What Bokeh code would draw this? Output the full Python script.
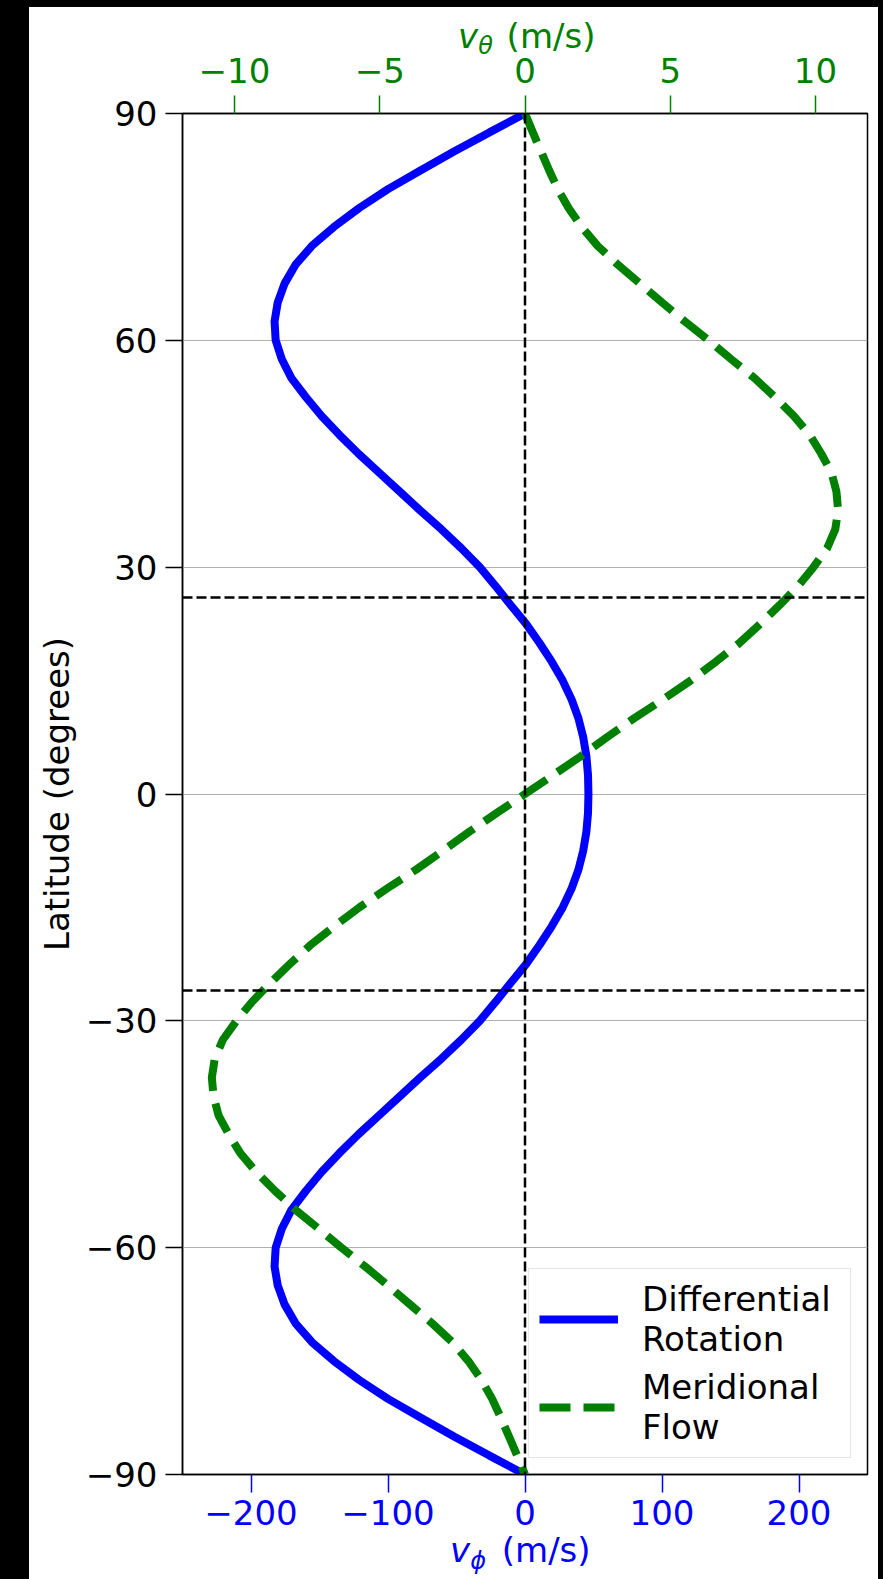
from bokeh.plotting import figure
from bokeh.models import Range1d, LinearAxis, FixedTicker, Span, Spacer, Div
from bokeh.layouts import row, column
from bokeh.embed import file_html
from bokeh.resources import INLINE

# ---- data ----
lat_rot = [90, 87.5, 85, 82.5, 80, 77.5, 75, 72.5, 70, 67.5, 65, 62.5, 60, 57.5, 55, 52.5, 50, 47.5, 45, 42.5,
           40, 37.5, 35, 32.5, 30, 27.5, 25, 22.5, 20, 17.5, 15, 12.5, 10, 7.5, 5, 2.5, 0,
           -2.5, -5, -7.5, -10, -12.5, -15, -17.5, -20, -22.5, -25, -27.5, -30, -32.5, -35, -37.5, -40,
           -42.5, -45, -47.5, -50, -52.5, -55, -57.5, -60, -62.5, -65, -67.5, -70, -72.5, -75, -77.5, -80,
           -82.5, -85, -87.5, -90]
v_phi = [0, -26, -51.5, -76, -100, -121, -139.5, -155.5, -167.5, -175.5, -180.5, -182.8, -182, -177.5, -170.5, -160,
         -148.5, -135.5, -121.5, -106.5, -91.5, -76.5, -61, -46.5, -33, -21.5, -10.5, 0.8, 10.5, 19.5, 27.5, 34, 39,
         42.5, 44.8, 46, 46.3,
         46, 44.8, 42.5, 39, 34, 27.5, 19.5, 10.5, 0.8, -10.5, -21.5, -33, -46.5, -61, -76.5, -91.5,
         -106.5, -121.5, -135.5, -148.5, -160, -170.5, -177.5, -182, -182.8, -180.5, -175.5, -167.5, -155.5, -139.5,
         -121, -100, -76, -51.5, -26, 0]

lat_mer = [90, 87.5, 85, 82.5, 80, 77.5, 75, 72.5, 70, 67.5, 65, 62.5, 60, 57.5, 55, 52.5, 50, 47.5, 45, 42.5,
           40, 37.5, 35, 32.5, 30, 27.5, 25, 22.5, 20, 17.5, 15, 12.5, 10, 7.5, 5, 2.5, 0,
           -2.5, -5, -7.5, -10, -12.5, -15, -17.5, -20, -22.5, -25, -27.5, -30, -32.5, -35, -37.5, -40,
           -42.5, -45, -47.5, -50, -52.5, -55, -57.5, -60, -62.5, -65, -67.5, -70, -72.5, -75, -77.5, -80,
           -82.5, -85, -87.5, -90]
v_theta = [0, 0.27, 0.55, 0.83, 1.13, 1.5, 1.95, 2.5, 3.2, 3.96, 4.72, 5.5, 6.32, 7.1, 7.9, 8.6, 9.25, 9.8, 10.2, 10.55,
           10.72, 10.78, 10.68, 10.4, 9.93, 9.4, 8.77, 8.1, 7.39, 6.57, 5.7, 4.75, 3.75, 2.82, 1.92, 0.97, 0,
           -0.97, -1.92, -2.82, -3.75, -4.75, -5.7, -6.57, -7.39, -8.1, -8.77, -9.4, -9.93, -10.4, -10.68, -10.78, -10.72,
           -10.55, -10.2, -9.8, -9.25, -8.6, -7.9, -7.1, -6.32, -5.5, -4.72, -3.96, -3.2, -2.5, -1.95, -1.5, -1.13,
           -0.83, -0.55, -0.27, 0]

boundary_lats = [26, -26]
lat_ticks = [-90, -60, -30, 0, 30, 60, 90]
phi_ticks = [-200, -100, 0, 100, 200]
theta_ticks = [-10, -5, 0, 5, 10]

BLUE = "#0000ff"
GREEN = "#008000"
FONT = "DejaVu Sans"
FS = "34px"


def minus(v):
    return ("\u2212" + str(abs(v))) if v < 0 else str(v)


p = figure(width=849, height=1503,
           x_range=Range1d(-250, 250), y_range=Range1d(-90, 90),
           output_backend="svg", toolbar_location=None,
           min_border_left=153, min_border_right=11, min_border_top=76, min_border_bottom=66,
           background_fill_color="white", border_fill_color="white", border_fill_alpha=0,
           margin=0)
p.extra_x_ranges = {"theta": Range1d(-11.79, 11.79)}

p.outline_line_color = "black"
p.outline_line_width = 1.5
p.xgrid.visible = False
p.ygrid.grid_line_color = "#b0b0b0"
p.ygrid.grid_line_width = 1.2

# left axis
ya = p.yaxis[0]
ya.ticker = FixedTicker(ticks=lat_ticks)
ya.major_label_overrides = {t: minus(t) for t in lat_ticks}
ya.axis_label = "Latitude (degrees)"
ya.axis_label_text_font = FONT
ya.axis_label_text_font_size = FS
ya.axis_label_text_font_style = "normal"
ya.axis_label_text_color = "black"
ya.axis_label_standoff = 6
ya.major_label_text_color = "black"

# bottom axis
xa = p.xaxis[0]
xa.ticker = FixedTicker(ticks=phi_ticks)
xa.major_label_overrides = {t: minus(t) for t in phi_ticks}
xa.major_label_text_color = BLUE
xa.major_tick_line_color = BLUE

# top axis
ta = LinearAxis(x_range_name="theta", ticker=FixedTicker(ticks=theta_ticks))
ta.major_label_overrides = {t: minus(t) for t in theta_ticks}
ta.major_label_text_color = GREEN
ta.major_tick_line_color = GREEN
p.add_layout(ta, "above")

for ax in (ya, xa, ta):
    ax.major_label_text_font = FONT
    ax.major_label_text_font_size = FS
    ax.major_tick_out = 18
    ax.major_tick_in = 0
    ax.major_tick_line_width = 1.5
    ax.minor_tick_line_color = None
    ax.axis_line_color = "black"
    ax.axis_line_width = 1.5
ya.major_tick_out = 17
ya.major_label_standoff = 8
xa.major_label_standoff = 7
ta.major_label_standoff = 13

# curves
p.line(v_phi, lat_rot, line_color=BLUE, line_width=8, legend_label="Differential\nRotation")
p.line(v_theta, lat_mer, x_range_name="theta", line_color=GREEN, line_width=8,
       line_dash="31 13", legend_label="Meridional\nFlow")

# reference dashed lines
p.add_layout(Span(location=0, dimension="height", line_color="black", line_width=2.5, line_dash="10 4"))
for b in boundary_lats:
    p.add_layout(Span(location=b, dimension="width", line_color="black", line_width=2.5, line_dash="10 4"))

lg = p.legend[0]
lg.location = "bottom_right"
lg.margin = 16
lg.padding = 10
lg.spacing = 8
lg.glyph_width = 79
lg.label_standoff = 24
lg.label_width = 198
lg.label_text_font = FONT
lg.label_text_font_size = FS
lg.label_text_color = "black"
lg.label_text_line_height = 1.2
lg.border_line_color = "#cccccc"
lg.border_line_width = 1.5
lg.background_fill_alpha = 0.8


def axis_title(sub, color, pad_left, pad_top, line_h, sub_drop, gap):
    return (
        f'<div style="font-family:\'DejaVu Sans\'; font-size:34px; line-height:{line_h}px; '
        f'padding-top:{pad_top}px; padding-left:{pad_left}px; white-space:nowrap; color:{color};">'
        f'<span style="font-style:italic">v</span>'
        f'<span style="font-size:24px; font-style:italic; position:relative; top:{sub_drop}px">{sub}</span>'
        f'<span style="margin-left:{gap}px"> (m/s)</span></div>'
    )


top_title = Div(text=axis_title("\u03b8", GREEN, 429, 12, 34, 6, 3), width=849, height=30, margin=0)
bottom_title = Div(text=axis_title("\u03d5", BLUE, 421, 0, 20, 7, 5), width=849, height=39, margin=0)

content = column(top_title, p, bottom_title, spacing=0, margin=0)
left = Spacer(width=29, height=1572, margin=0, styles={"background-color": "black"})
right = Spacer(width=5, height=1572, margin=0, styles={"background-color": "black"})
top_band = Spacer(width=883, height=7, margin=0, styles={"background-color": "black"})
layout = column(top_band, row(left, content, right, spacing=0, margin=0), spacing=0, margin=0)

open("out.html", "w").write(file_html(layout, INLINE))
